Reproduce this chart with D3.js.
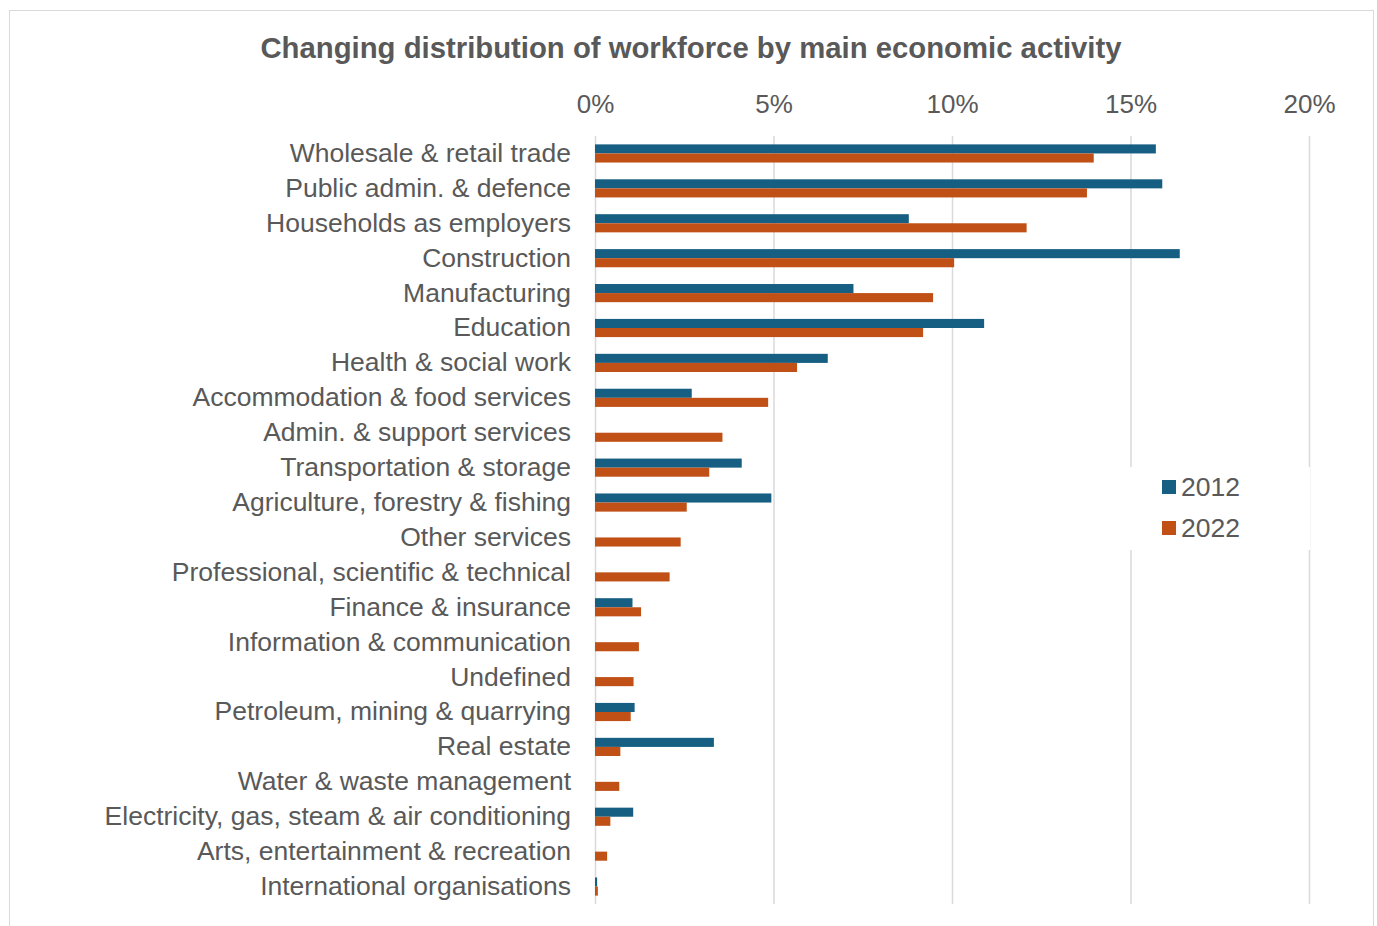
<!DOCTYPE html>
<html>
<head>
<meta charset="utf-8">
<script src="https://cdn.jsdelivr.net/npm/d3@7"></script>
<style>
  body { margin: 0; background: #fff; }
  text { font-family: "Liberation Sans", Arial, sans-serif; }
</style>
</head>
<body>
<div id="chart"></div>
<script>
// categories, top to bottom
const categories = [
    "Wholesale & retail trade",
    "Public admin. & defence",
    "Households as employers",
    "Construction",
    "Manufacturing",
    "Education",
    "Health & social work",
    "Accommodation & food services",
    "Admin. & support services",
    "Transportation & storage",
    "Agriculture, forestry & fishing",
    "Other services",
    "Professional, scientific & technical",
    "Finance & insurance",
    "Information & communication",
    "Undefined",
    "Petroleum, mining & quarrying",
    "Real estate",
    "Water & waste management",
    "Electricity, gas, steam & air conditioning",
    "Arts, entertainment & recreation",
    "International organisations"
];

// share of workforce, % (null = no value shown)
const values2012 = [15.71, 15.89, 8.79, 16.38, 7.24, 10.90, 6.52, 2.71, null, 4.11, 4.94,
    null, null, 1.05, null, null, 1.11, 3.33, null, 1.07, null, 0.06];
const values2022 = [13.97, 13.78, 12.09, 10.06, 9.47, 9.19, 5.66, 4.85, 3.57, 3.20, 2.57,
    2.40, 2.09, 1.29, 1.23, 1.08, 1.00, 0.71, 0.68, 0.43, 0.34, 0.08];

const seriesNames = ["2012", "2022"];
const tickValues = [0, 5, 10, 15, 20];

const W = 1377, H = 926;
const margin = { left: 595, right: 68, top: 136, bottom: 22 };
const colors = { "2012": "#175f82", "2022": "#c05016" };
const textColor = "#595959";

const svg = d3.select("#chart").append("svg")
    .attr("width", W)
    .attr("height", H);

// outer frame
svg.append("rect")
    .attr("x", 9.5).attr("y", 10.5)
    .attr("width", 1364).attr("height", 930)
    .attr("fill", "#fff")
    .attr("stroke", "#d9d9d9")
    .attr("stroke-width", 1);

const x = d3.scaleLinear()
    .domain([0, 20])
    .range([margin.left, W - margin.right]);

const y = d3.scaleBand()
    .domain(categories)
    .range([margin.top, H - margin.bottom])
    .paddingInner(0.48)
    .paddingOuter(0.24);

const ySub = d3.scaleBand()
    .domain(seriesNames)
    .range([0, y.bandwidth()]);

// gridlines + top tick labels
const xAxis = d3.axisTop(x)
    .tickValues(tickValues)
    .tickFormat(d => d + "%")
    .tickSize(-(H - margin.bottom - margin.top))
    .tickPadding(23);

const gx = svg.append("g")
    .attr("transform", `translate(0,${margin.top})`)
    .call(xAxis);
gx.select(".domain").remove();
gx.selectAll(".tick line").attr("stroke", "#d9d9d9").attr("stroke-width", 1.5);
gx.selectAll(".tick text")
    .attr("fill", textColor)
    .attr("font-size", 26);

// category labels
const yAxis = d3.axisLeft(y).tickSize(0).tickPadding(24);
const gy = svg.append("g")
    .attr("transform", `translate(${margin.left},0)`)
    .call(yAxis);
gy.select(".domain").remove();
gy.selectAll(".tick text")
    .attr("fill", textColor)
    .attr("font-size", 26.5);

// bars
const rows = categories.map((c, i) => ({
    cat: c,
    vals: [
        { key: "2012", v: values2012[i] },
        { key: "2022", v: values2022[i] }
    ]
}));

const groups = svg.append("g").selectAll("g")
    .data(rows)
    .join("g")
    .attr("transform", d => `translate(0,${y(d.cat)})`);

groups.selectAll("rect")
    .data(d => d.vals.filter(e => e.v !== null))
    .join("rect")
    .attr("x", x(0))
    .attr("y", d => ySub(d.key))
    .attr("width", d => x(d.v) - x(0))
    .attr("height", ySub.bandwidth())
    .attr("fill", d => colors[d.key]);

// title
svg.append("text")
    .attr("x", 691)
    .attr("y", 58)
    .attr("text-anchor", "middle")
    .attr("font-size", 29.3)
    .attr("font-weight", "bold")
    .attr("fill", textColor)
    .text("Changing distribution of workforce by main economic activity");

// legend
const legend = svg.append("g").attr("transform", "translate(1130,467)");
legend.append("rect")
    .attr("width", 180).attr("height", 83)
    .attr("fill", "#fff");
const li = legend.selectAll("g")
    .data(seriesNames)
    .join("g")
    .attr("transform", (d, i) => `translate(32,${13 + i * 41})`);
li.append("rect")
    .attr("width", 14).attr("height", 14)
    .attr("fill", d => colors[d]);
li.append("text")
    .attr("x", 19).attr("y", 7)
    .attr("dy", "0.35em")
    .attr("font-size", 26.5)
    .attr("fill", textColor)
    .text(d => d);
</script>
</body>
</html>
